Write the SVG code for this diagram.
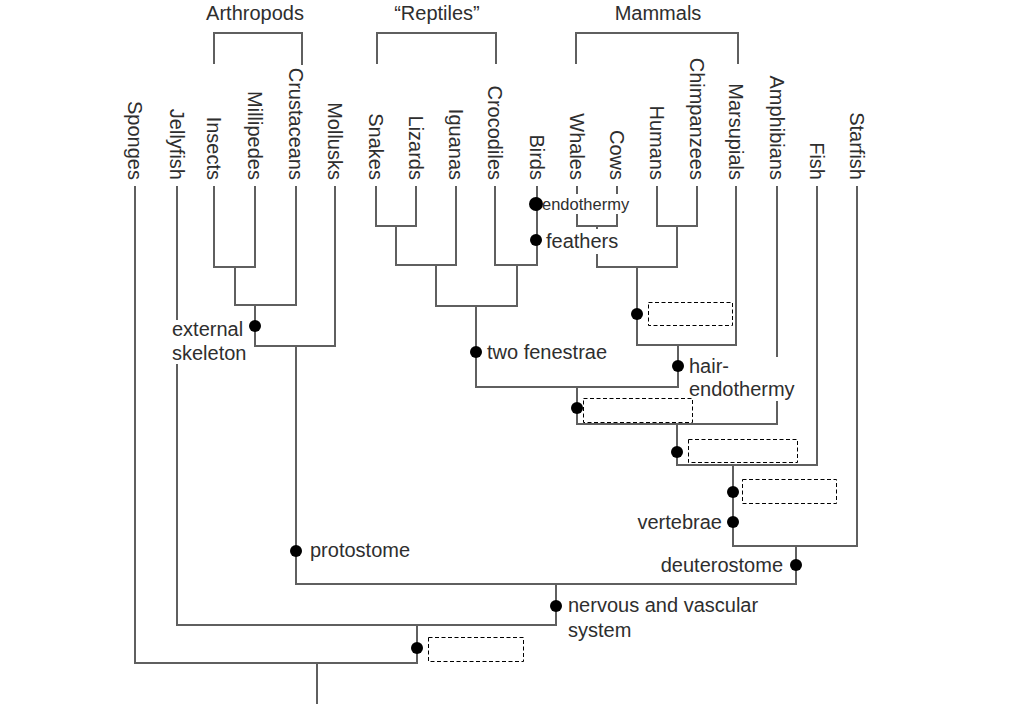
<svg xmlns="http://www.w3.org/2000/svg" width="1024" height="704" viewBox="0 0 1024 704">
<style>
.ln{fill:none;stroke:#5f5f5f;stroke-width:2;stroke-linejoin:miter;stroke-linecap:square}
.t{font-family:"Liberation Sans",Arial,sans-serif;font-size:20px;fill:#2e2e2e}
.sm{font-size:16.5px}
.end{text-anchor:end}
.mid{text-anchor:middle}
.dot{fill:#000}
.box{fill:none;stroke:#000;stroke-width:1;stroke-dasharray:4,2.5}
.bg{fill:#fff}
</style>
<rect width="1024" height="704" fill="#fff"/>
<g id="connectors">
<path class="ln" d="M214 63V33H302V64M377 63V33H496V63M576 63V33H738V63"/>
<path class="ln" d="M135 187V663M177 187V625"/>
<path class="ln" d="M214 187V267H255V187M235 267V305H296V187M255 305V346H335V187M296 346V584"/>
<path class="ln" d="M376 187V226H416V187M396 226V265H456V187M436 265V306H517V265M495 187V265H537V187M476 306V387"/>
<path class="ln" d="M577 187V226H617V187M657 187V226H697V187M597 226V267H677V226M637 267V345H736V187M678 345V387H476"/>
<path class="ln" d="M577 387V424H777V187M677 424V465H817V187M733 465V546H857V187M796 546V584H296M556 584V625H177M417 625V663H135M317 663V704"/>
</g>
<g id="labels-bg">
<rect class="bg" x="169" y="320" width="80" height="44"/>
<rect class="bg" x="541" y="194" width="95" height="20"/>
<rect class="bg" x="544" y="229" width="78" height="25"/>
<rect class="bg" x="687" y="357" width="112" height="44"/>
</g>
<g id="headers">
<text class="t mid" x="255" y="20">Arthropods</text>
<text class="t mid" x="437" y="20">“Reptiles”</text>
<text class="t mid" x="658" y="20">Mammals</text>
</g>
<g id="leaves">
<text class="t end" transform="translate(128,180) rotate(90)">Sponges</text>
<text class="t end" transform="translate(170,180) rotate(90)">Jellyfish</text>
<text class="t end" transform="translate(207,180) rotate(90)">Insects</text>
<text class="t end" transform="translate(248,180) rotate(90)">Millipedes</text>
<text class="t end" transform="translate(289,180) rotate(90)">Crustaceans</text>
<text class="t end" transform="translate(328,180) rotate(90)">Mollusks</text>
<text class="t end" transform="translate(369,180) rotate(90)">Snakes</text>
<text class="t end" transform="translate(409,180) rotate(90)">Lizards</text>
<text class="t end" transform="translate(449,180) rotate(90)">Iguanas</text>
<text class="t end" transform="translate(488,180) rotate(90)">Crocodiles</text>
<text class="t end" transform="translate(530,180) rotate(90)">Birds</text>
<text class="t end" transform="translate(570,180) rotate(90)">Whales</text>
<text class="t end" transform="translate(610,180) rotate(90)">Cows</text>
<text class="t end" transform="translate(650,180) rotate(90)">Humans</text>
<text class="t end" transform="translate(690,180) rotate(90)">Chimpanzees</text>
<text class="t end" transform="translate(729,180) rotate(90)">Marsupials</text>
<text class="t end" transform="translate(770,180) rotate(90)">Amphibians</text>
<text class="t end" transform="translate(810,180) rotate(90)">Fish</text>
<text class="t end" transform="translate(850,180) rotate(90)">Starfish</text>
</g>
<g id="trait-external-skeleton">
<circle class="dot" cx="255" cy="326" r="6"/>
<text class="t" x="172" y="336">external</text>
<text class="t" x="172" y="360">skeleton</text>
</g>
<g id="trait-two-fenestrae">
<circle class="dot" cx="476" cy="352" r="6"/>
<text class="t" x="487" y="359">two fenestrae</text>
</g>
<g id="trait-endothermy-birds">
<circle class="dot" cx="536" cy="204" r="7"/>
<text class="t sm" x="542" y="210">endothermy</text>
</g>
<g id="trait-feathers">
<circle class="dot" cx="536" cy="240" r="6"/>
<text class="t" x="546" y="248">feathers</text>
</g>
<g id="trait-placental">
<circle class="dot" cx="637" cy="314" r="6"/>
<rect class="box" x="648.5" y="302.5" width="84" height="23"/>
</g>
<g id="trait-hair">
<circle class="dot" cx="678" cy="366" r="6"/>
<text class="t" x="689" y="373">hair-</text>
<text class="t" x="689" y="396">endothermy</text>
</g>
<g id="trait-amniote">
<circle class="dot" cx="577" cy="408" r="6"/>
<rect class="box" x="583.5" y="398.5" width="109" height="24"/>
</g>
<g id="trait-tetrapod">
<circle class="dot" cx="677" cy="452" r="6"/>
<rect class="box" x="688.5" y="439.5" width="109" height="23"/>
</g>
<g id="trait-jaws">
<circle class="dot" cx="733" cy="492" r="6"/>
<rect class="box" x="742.5" y="479.5" width="94" height="24"/>
</g>
<g id="trait-vertebrae">
<circle class="dot" cx="733" cy="522" r="6"/>
<text class="t end" x="722" y="529">vertebrae</text>
</g>
<g id="trait-deuterostome">
<circle class="dot" cx="796" cy="565" r="6"/>
<text class="t end" x="783" y="572">deuterostome</text>
</g>
<g id="trait-protostome">
<circle class="dot" cx="296" cy="551" r="6"/>
<text class="t" x="310" y="557">protostome</text>
</g>
<g id="trait-nervous">
<circle class="dot" cx="556" cy="606" r="6"/>
<text class="t" x="568" y="612">nervous and vascular</text>
<text class="t" x="568" y="637">system</text>
</g>
<g id="trait-tissues">
<circle class="dot" cx="417" cy="648" r="6"/>
<rect class="box" x="428.5" y="637.5" width="95" height="24"/>
</g>
</svg>
